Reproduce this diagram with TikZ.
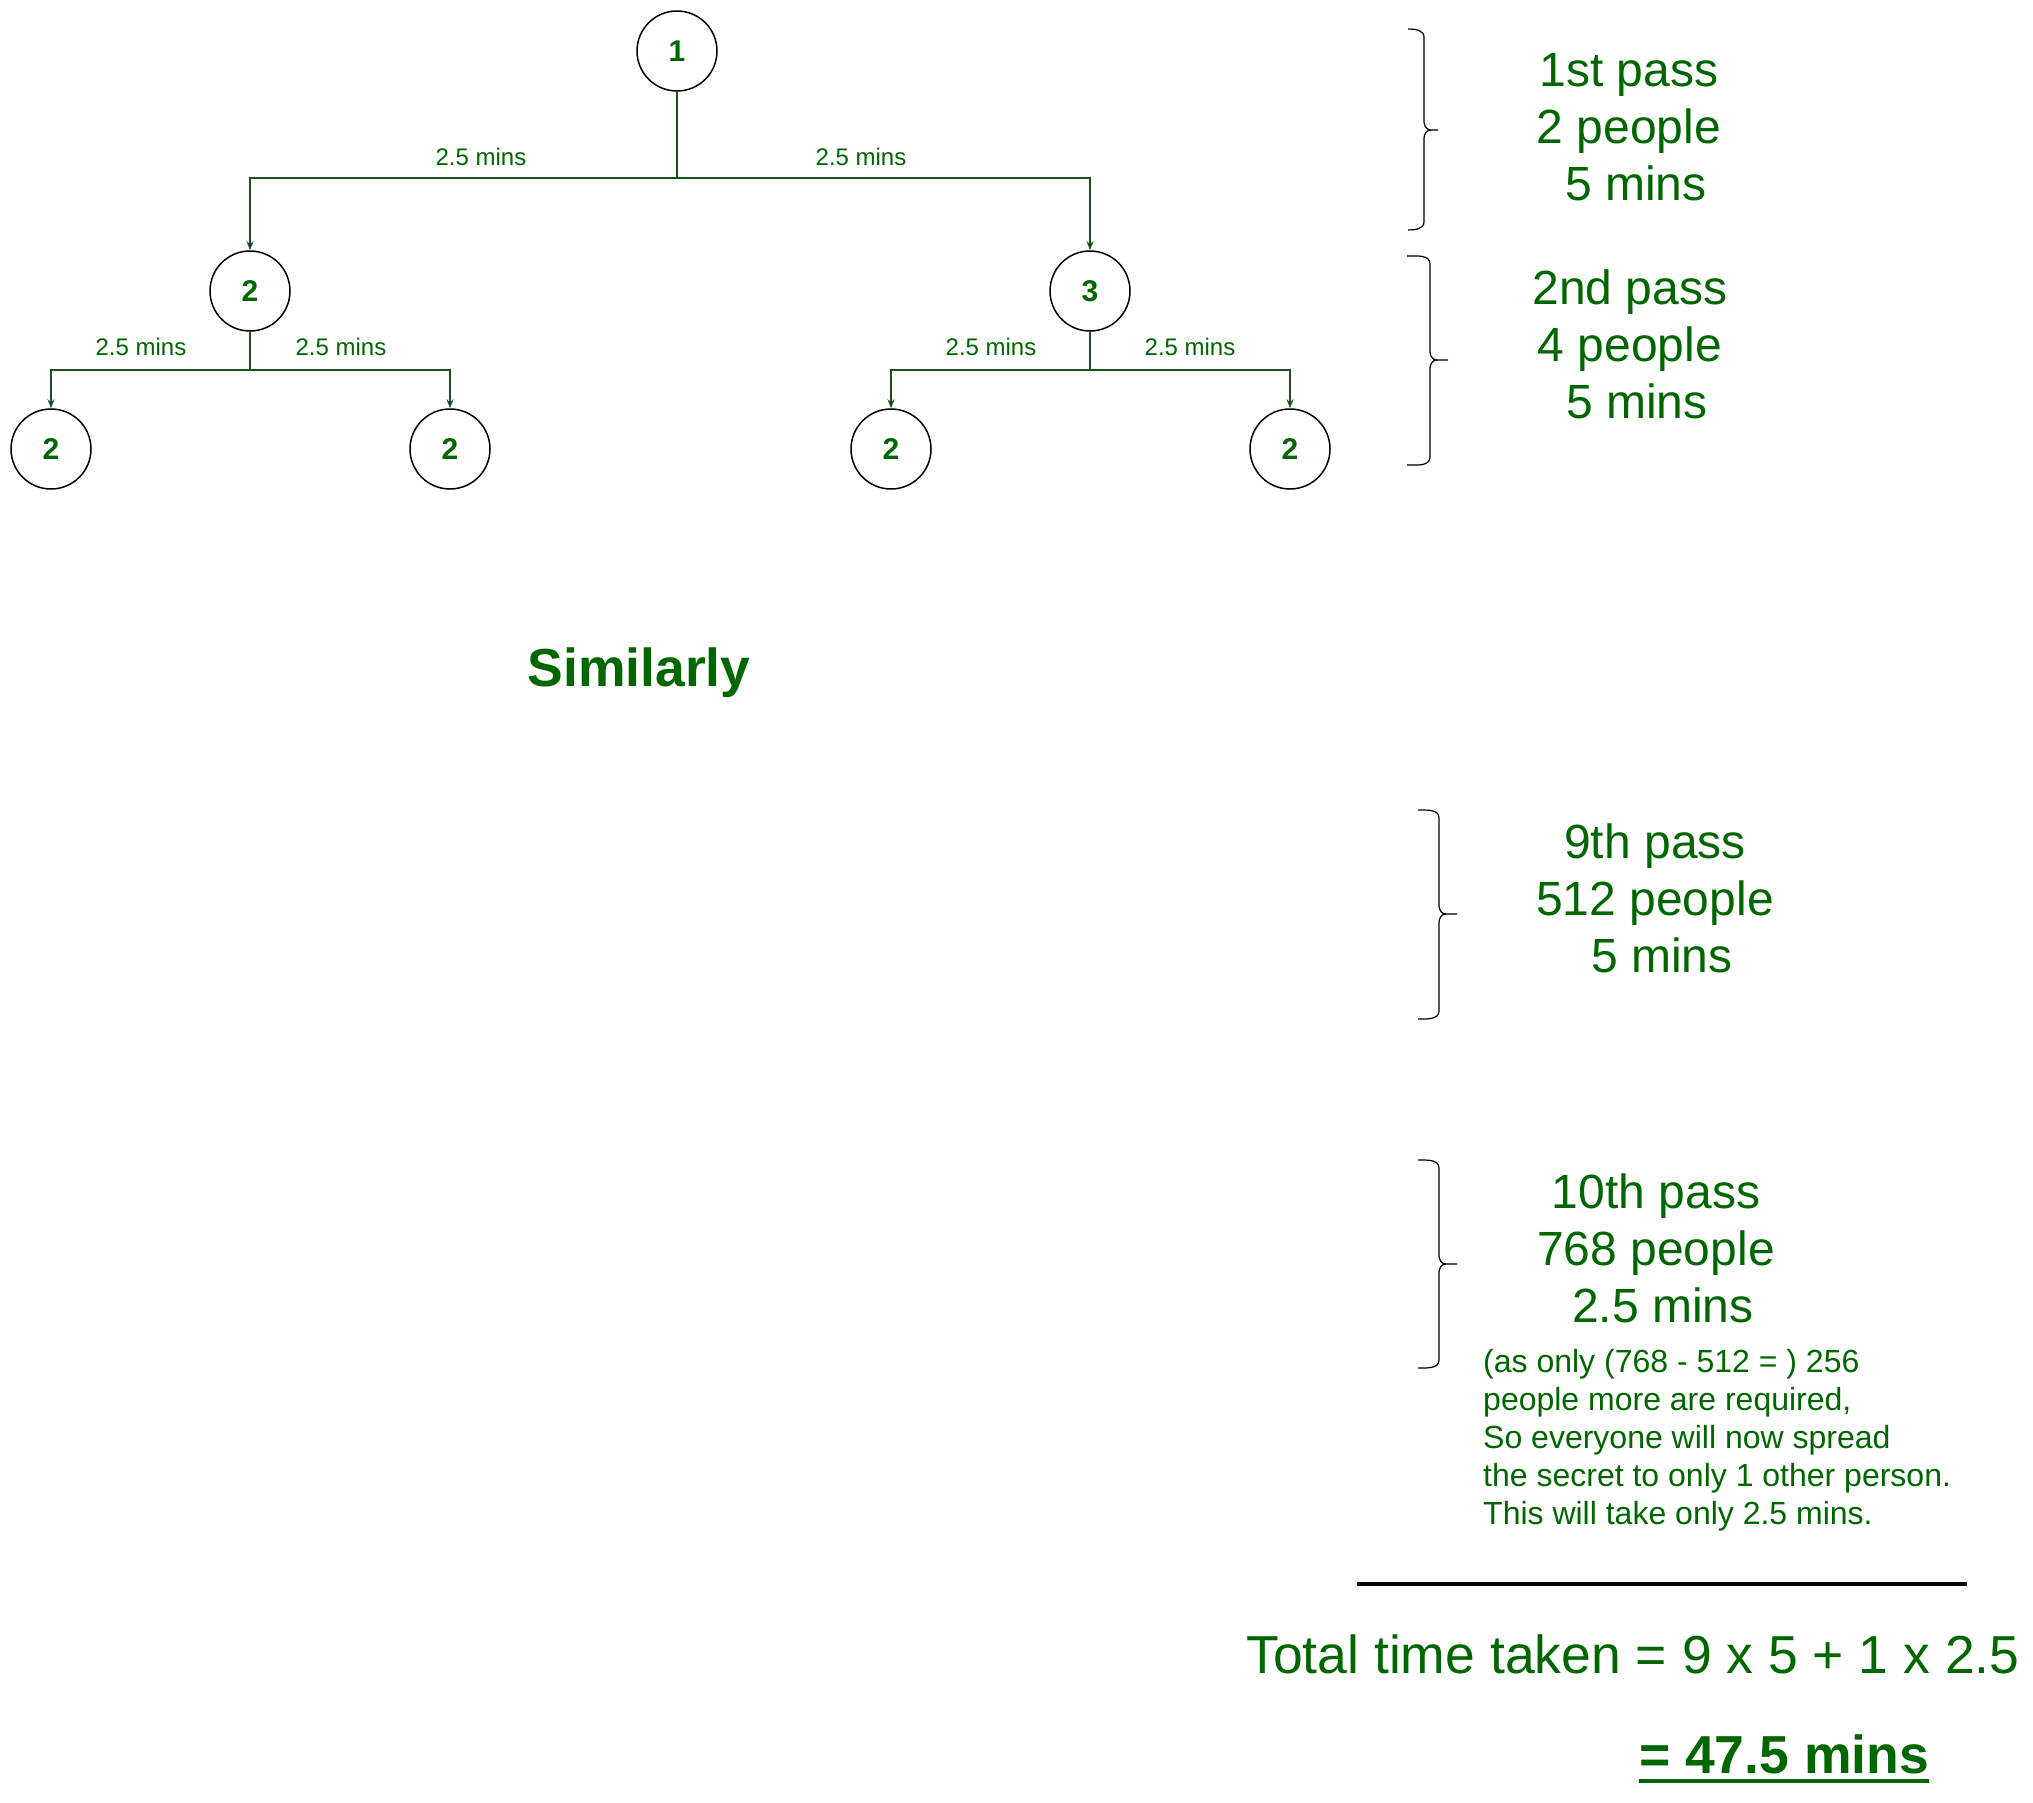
\documentclass[tikz,border=0pt]{standalone}
\usepackage{fontspec}
\setmainfont{Liberation Sans}
\usetikzlibrary{arrows.meta}
\definecolor{txtgreen}{HTML}{006600}
\definecolor{edgecol}{HTML}{1F4F1F}
\begin{document}
\begin{tikzpicture}[x=1pt,y=1pt,
  person/.style={circle,draw=black,line width=1.5pt,minimum size=80pt,inner sep=0pt,
    text=txtgreen,font=\fontsize{30}{34}\selectfont\bfseries},
  edge/.style={draw=edgecol,line width=1.3pt},
  arr/.style={edge,-{Stealth[length=9pt,width=7pt]}},
  elabel/.style={text=txtgreen,font=\fontsize{24}{29}\selectfont,inner sep=0pt},
  passtxt/.style={text=txtgreen,align=center,font=\fontsize{48}{57}\selectfont,inner sep=0pt},
  brace/.style={draw=black,line width=1.2pt}
]
\useasboundingbox (0,0) rectangle (2033,-1802);

% tree nodes
\node[person] (r) at (677,-51) {1};
\node[person] (a) at (250,-291) {2};
\node[person] (b) at (1090,-291) {3};
\node[person] (a1) at (51,-449) {2};
\node[person] (a2) at (450,-449) {2};
\node[person] (b1) at (891,-449) {2};
\node[person] (b2) at (1290,-449) {2};

\coordinate (j0) at (677,-178);
\coordinate (ja) at (250,-370);
\coordinate (jb) at (1090,-370);

\draw[edge] (r) -- (j0);
\draw[arr] (j0) -| (a);
\draw[arr] (j0) -| (b);
\draw[edge] (a) -- (ja);
\draw[arr] (ja) -| (a1);
\draw[arr] (ja) -| (a2);
\draw[edge] (b) -- (jb);
\draw[arr] (jb) -| (b1);
\draw[arr] (jb) -| (b2);

% edge labels
\node[elabel] (l1) at (481,-157) {2.5 mins};
\node[elabel] (l2) at (861,-157) {2.5 mins};
\node[elabel] (l3) at (141,-347) {2.5 mins};
\node[elabel] (l4) at (341,-347) {2.5 mins};
\node[elabel] (l5) at (991,-347) {2.5 mins};
\node[elabel] (l6) at (1190,-347) {2.5 mins};

% Similarly
\node[text=txtgreen,font=\fontsize{53.5}{63}\selectfont\bfseries] (sim) at (639,-673) {Similarly};

% braces
\foreach \xe/\xv/\xt/\top/\mid/\bot in {1408/1424/1438/29/130/230, 1407/1430/1448/256/360/465, 1418/1439/1457/810/914/1019, 1418/1439/1457/1160/1264/1368}{
  \draw[brace] (\xe,-\top) to[out=0,in=90] (\xv,-\top-8) -- (\xv,-\mid+8) to[out=-90,in=180] (\xv+7,-\mid) -- (\xt,-\mid);
  \draw[brace] (\xe,-\bot) to[out=0,in=-90] (\xv,-\bot+8) -- (\xv,-\mid-8) to[out=90,in=180] (\xv+7,-\mid);
}

% pass texts
\node[passtxt] (p1) at (1629,-127) {1st pass\\2 people\\\hspace*{.28em}5 mins};
\node[passtxt] (p2) at (1630,-344) {2nd pass\\4 people\\\hspace*{.28em}5 mins};
\node[passtxt] (p9) at (1655,-898) {9th pass\\512 people\\\hspace*{.28em}5 mins};
\node[passtxt] (p10) at (1656,-1248) {10th pass\\768 people\\\hspace*{.28em}2.5 mins};

\node[text=txtgreen,align=left,anchor=north west,inner sep=0pt,font=\fontsize{32}{38}\selectfont] (note) at (1483,-1349)
  {(as only (768 - 512 = ) 256\\people more are required,\\So everyone will now spread\\the secret to only 1 other person.\\This will take only 2.5 mins.};

% total
\draw[black,line width=4pt] (1357,-1584) -- (1967,-1584);
\node[text=txtgreen,font=\fontsize{53.5}{63}\selectfont,anchor=base,inner sep=0pt] (tot) at (1633,-1673) {Total time taken = 9 x 5 + 1 x 2.5};
\node[text=txtgreen,font=\fontsize{53.5}{63}\selectfont\bfseries,anchor=base,inner sep=0pt] (res) at (1784,-1773) {= 47.5 mins};
\draw[txtgreen,line width=4pt] ([yshift=-8pt]res.base west) -- ([yshift=-8pt]res.base east);
\end{tikzpicture}
\end{document}
